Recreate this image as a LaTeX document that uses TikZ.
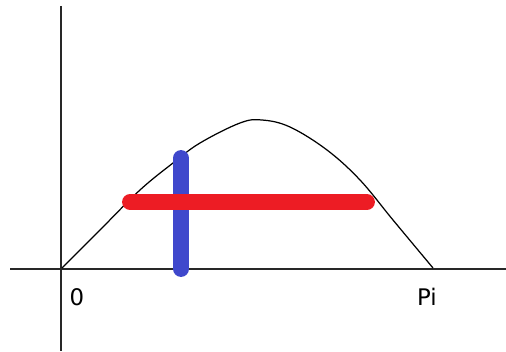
\documentclass[tikz,border=0pt]{standalone}
\usepackage{fontspec}
\setmainfont{DejaVu Sans}
\usetikzlibrary{positioning}
\definecolor{barred}{RGB}{237, 28, 36}
\definecolor{barblue}{RGB}{63, 72, 204}
\definecolor{axisgray}{RGB}{40, 40, 40}

\begin{document}
\begin{tikzpicture}[
    x=0.02cm, y=-0.02cm,
    axis/.style={axisgray, line width=1.1pt},
    curve/.style={black, line width=0.7pt},
    bar/.style={line width=9pt, line cap=round},
    tick/.style={font=\fontsize{13}{15}\selectfont, inner sep=0pt}
]
\useasboundingbox (0,0) rectangle (506,351);

% === Ejes ===
\coordinate (xl) at (10,269);
\coordinate (xr) at (506,269);
\coordinate (yt) at (61,6);
\coordinate (yb) at (61,351);
\draw[axis] (xl) -- (xr);
\draw[axis] (yt) -- (yb);

% === Curva ===
\draw[curve] plot[smooth, tension=0.6] coordinates {
    (62,268) (100,230) (140,190) (173,163) (200,143) (240,123)
    (262,120) (290,127) (327,150) (360,180) (393,220) (433,268)};

% === Barras ===
\coordinate (bt) at (181,158);
\coordinate (bb) at (181,269);
\coordinate (rl) at (130,202);
\coordinate (rr) at (367,202);
\draw[bar, barblue] (bt) -- (bb);
\draw[bar, barred] (rl) -- (rr);

% === Etiquetas ===
\node[tick] (zero) at (77,297) {0};
\node[tick] (pi) at (427,297) {Pi};

\end{tikzpicture}
\end{document}
